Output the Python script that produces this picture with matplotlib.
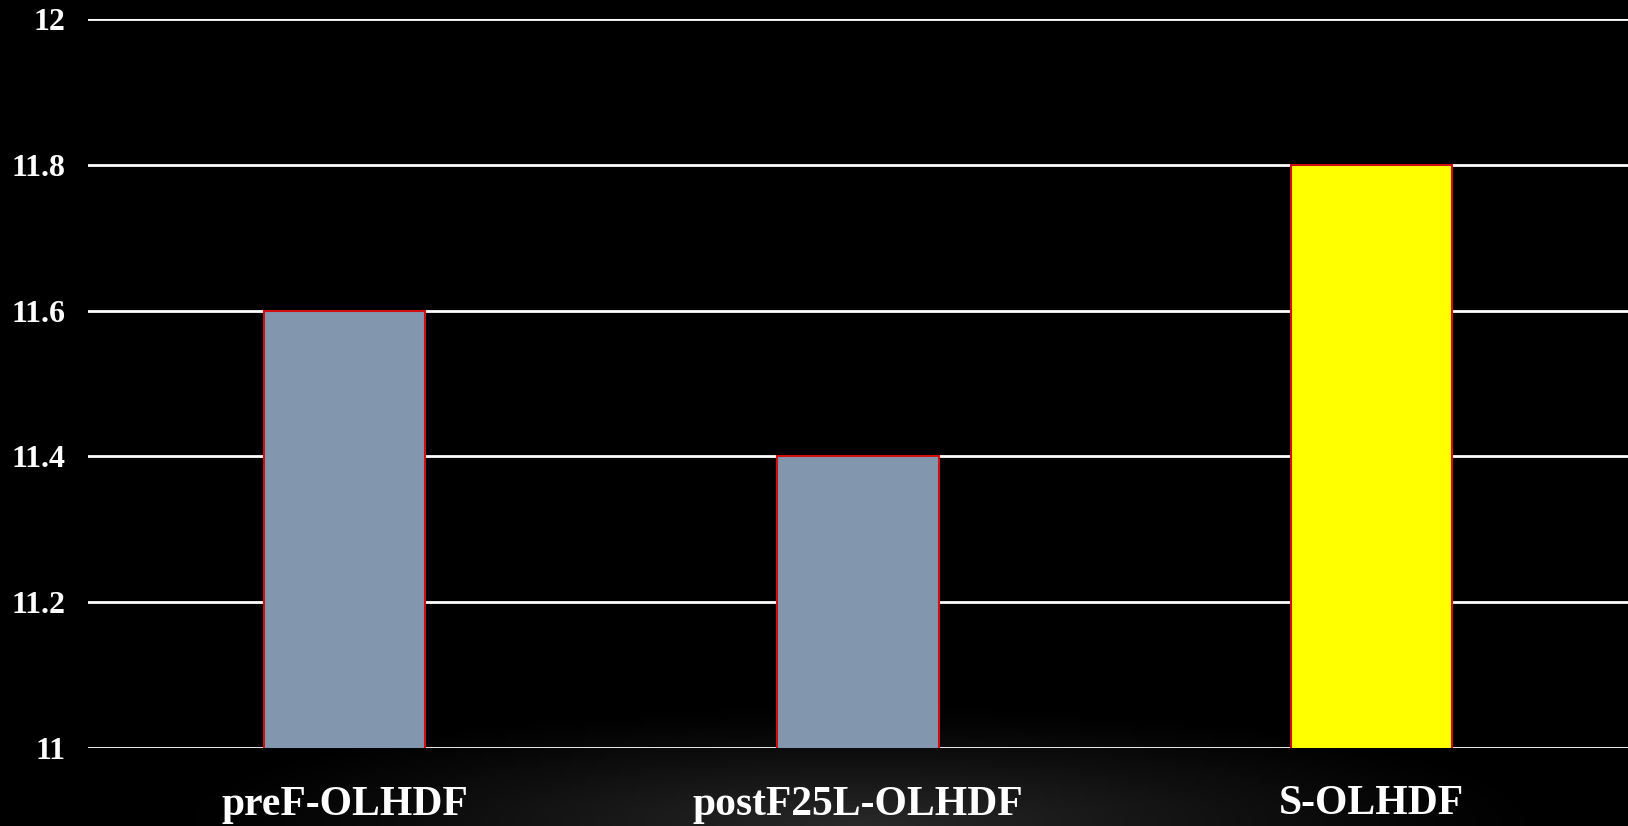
import numpy as np
import matplotlib.pyplot as plt

# data
categories = ['preF-OLHDF', 'postF25L-OLHDF', 'S-OLHDF']
values = [11.6, 11.4, 11.8]
bar_colors = ['#8297ad', '#8297ad', '#ffff00']
yticks = [11, 11.2, 11.4, 11.6, 11.8, 12]
ytick_labels = ['11', '11.2', '11.4', '11.6', '11.8', '12']

plt.rcParams['font.family'] = ['Liberation Serif', 'DejaVu Serif']

fig = plt.figure(figsize=(16.28, 8.26), dpi=100)
fig.patch.set_facecolor('black')

# subtle glow at the bottom of the slide
bg = fig.add_axes([0, 0, 1, 1], zorder=-10)
gx = np.linspace(0, 1628, 400)
gy = np.linspace(0, 826, 200)
GX, GY = np.meshgrid(gx, gy)
d = np.sqrt(((GX - 860) / 700) ** 2 + ((GY - 0) / 120) ** 2)
glow = 0.16 * np.clip(1 - d, 0, 1) ** 1.2
img = np.dstack([glow, glow, glow])
bg.imshow(img, origin='lower', extent=[0, 1628, 0, 826], aspect='auto')
bg.axis('off')

ax = fig.add_axes([88 / 1628, 1 - 748 / 826, 1 - 88 / 1628, (748 - 19) / 826])
ax.set_facecolor('none')
x = np.arange(len(categories))
ax.bar(x, values, width=0.314, color=bar_colors, edgecolor='#d01010',
       linewidth=1.5, zorder=3, bottom=0)
ax.set_xlim(-0.5, 2.5)
ax.set_ylim(11, 12)
ax.set_yticks(yticks)
ax.set_yticklabels(ytick_labels)
ax.yaxis.grid(True, color='white', linewidth=2, zorder=1)
ax.set_axisbelow(True)
for s in ax.spines.values():
    s.set_visible(False)
ax.tick_params(axis='y', length=0, pad=16, labelsize=23, labelcolor='white')
ax.tick_params(axis='x', length=0, pad=27, labelsize=30, labelcolor='white')
ax.set_xticks(x)
ax.set_xticklabels(categories)
for lab in ax.get_xticklabels() + ax.get_yticklabels():
    lab.set_fontweight('bold')

fig.savefig('out.png', dpi=100, facecolor=fig.get_facecolor())
